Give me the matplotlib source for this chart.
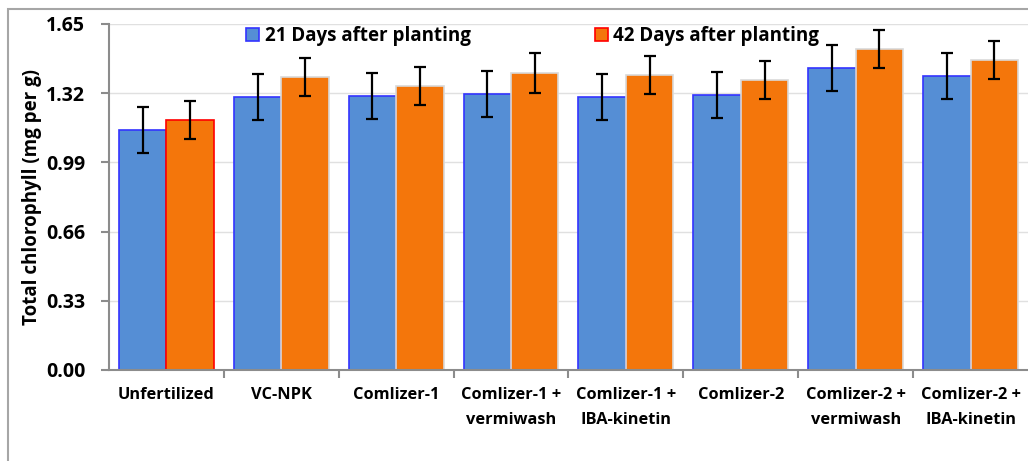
"""Total chlorophyll bar chart, 21 vs 42 days after planting"""

import numpy as np
from matplotlib import pyplot as plt
from matplotlib.lines import Line2D

treatments = ['Unfertilized', 'VC-NPK', 'Comlizer-1', 'Comlizer-1 +\nvermiwash',
              'Comlizer-1 +\nIBA-kinetin', 'Comlizer-2', 'Comlizer-2 +\nvermiwash',
              'Comlizer-2 +\nIBA-kinetin']
days21 = [1.144, 1.302, 1.307, 1.316, 1.302, 1.311, 1.440, 1.400]
days21_err = [0.110, 0.110, 0.110, 0.110, 0.110, 0.110, 0.110, 0.110]
days42 = [1.192, 1.397, 1.354, 1.416, 1.407, 1.383, 1.531, 1.478]
days42_err = [0.090, 0.090, 0.090, 0.095, 0.090, 0.090, 0.090, 0.090]
yticks = [0.00, 0.33, 0.66, 0.99, 1.32, 1.65]

plt.rcParams['font.family'] = ['Open Sans', 'DejaVu Sans']
plt.rcParams['font.weight'] = 'bold'

if __name__ == "__main__":
    fig = plt.figure(figsize=(10.28, 4.61), dpi=100, facecolor='white')
    ax = fig.add_axes([0.106, 0.1974, 0.894, 0.7506])

    # outer chart frame (only top and left edges show in the source)
    fx, fy = 7.5 / 1028, 1 - 9 / 461
    fig.lines.append(Line2D([fx, fx, 1.05], [-0.05, fy, fy], transform=fig.transFigure,
                            color='#a6a6a6', linewidth=1.5, solid_joinstyle='miter'))

    x = np.arange(len(treatments))
    w = 0.413
    orange_edges = ['red'] + ['#d9d9d9'] * (len(treatments) - 1)

    ax.bar(x - w / 2, days21, w, color='#558ed5', edgecolor='#3333ff',
           linewidth=1.2, label='21 Days after planting', zorder=2)
    ax.bar(x + w / 2, days42, w, color='#f4760b', edgecolor=orange_edges,
           linewidth=1.2, label='42 Days after planting', zorder=2)
    ax.errorbar(x - w / 2, days21, yerr=days21_err, fmt='none', ecolor='black',
                elinewidth=1.6, capsize=4.5, capthick=1.6, zorder=3)
    ax.errorbar(x + w / 2, days42, yerr=days42_err, fmt='none', ecolor='black',
                elinewidth=1.6, capsize=4.5, capthick=1.6, zorder=3)

    ax.set_xlim(-0.5, len(treatments) - 0.5)
    ax.set_ylim(0, 1.65)
    ax.set_yticks(yticks)
    ax.set_yticklabels([f'{v:.2f}' for v in yticks], fontsize=14, fontweight='bold')
    ax.yaxis.grid(True, color='#e0e0e0', linewidth=1, zorder=0)
    ax.set_axisbelow(True)

    ax.set_xticks(x)
    ax.set_xticklabels(treatments, fontsize=11.8, fontweight='bold', linespacing=1.8)
    ax.tick_params(axis='x', which='major', length=0, pad=12)
    # boundary ticks between groups, leaving out the two ends
    ax.set_xticks(np.arange(0.5, len(treatments) - 1), minor=True)
    ax.tick_params(axis='x', which='minor', length=6, width=1.5, color='#8c8c8c')
    ax.tick_params(axis='y', length=6, width=1.5, color='#8c8c8c', pad=11)

    for side in ['top', 'right']:
        ax.spines[side].set_visible(False)
    for side in ['left', 'bottom']:
        ax.spines[side].set_color('#8c8c8c')
        ax.spines[side].set_linewidth(1.5)

    ax.set_ylabel('Total chlorophyll (mg per g)', fontsize=13.5, fontweight='bold')
    ax.yaxis.set_label_coords(-0.073, 0.5)

    leg = ax.legend(loc='center', bbox_to_anchor=(0.461, 0.965), ncol=2,
                    frameon=False, fontsize=13.5, columnspacing=6.6,
                    handlelength=0.7, handleheight=0.7, handletextpad=0.3,
                    borderaxespad=0)
    for t in leg.get_texts():
        t.set_fontweight('bold')

    plt.savefig('out.png', dpi=100, facecolor='white')
